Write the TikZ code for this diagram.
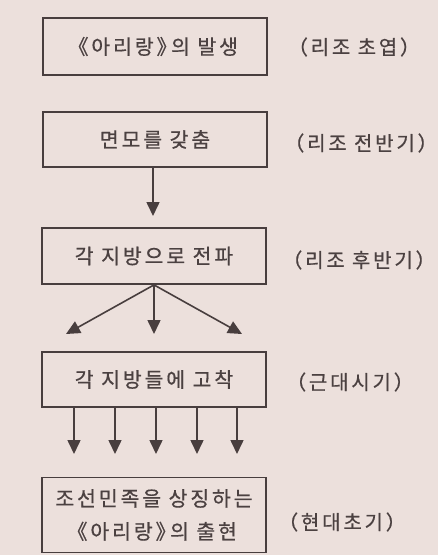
\documentclass[tikz,border=0pt]{standalone}
\usepackage{fontspec}
\usetikzlibrary{arrows.meta}
\newfontfamily\krfont{Noto Sans CJK KR}[LetterSpace=14,FakeBold=0.6]
\definecolor{paper}{RGB}{236,224,220}
\definecolor{ink}{RGB}{72,62,62}
\definecolor{txt}{RGB}{75,65,65}
\begin{document}
\begin{tikzpicture}[x=1pt,y=-1pt,
  stage/.style={draw=ink,line width=1.8pt,minimum width=224pt,inner sep=0pt,
    font=\krfont\fontsize{20.5}{33}\selectfont,text=txt,align=center},
  period/.style={font=\krfont\fontsize{20}{22}\selectfont,text=txt,anchor=center},
  flow/.style={draw=ink,line width=1.6pt,-{Triangle[width=13pt,length=14pt]}}]
\fill[paper] (0,0) rectangle (438,555);
\useasboundingbox (0,0) rectangle (438,555);
% stages
\node[stage,minimum height=57pt] (s1) at (155,46.5) {\kern-4pt《아리랑》\kern-6pt 의 발생};
\node[stage,minimum height=55pt] (s2) at (155,139.5) {면모를 갖춤};
\node[stage,minimum height=56pt] (s3) at (154,256) {각 지방으로 전파};
\node[stage,minimum height=55pt] (s4) at (154,379.5) {각 지방들에 고착};
\node[stage,minimum height=75pt] (s5) at (154,515) {조선민족을 상징하는\\\kern-4pt《아리랑》\kern-6pt 의 출현};
% periods
\node[period] (p1) at (354,47) {（리조 초엽）};
\node[period] (p2) at (361,143) {（리조 전반기）};
\node[period] (p3) at (359,260) {（리조 후반기）};
\node[period] (p4) at (350,382) {（근대시기）};
\node[period] (p5) at (342,522) {（현대초기）};
% arrows
\coordinate (a2) at (153,216);
\draw[flow] (s2.south -| a2) -- (a2);
\coordinate (f1) at (66,334);
\coordinate (f2) at (154,334);
\coordinate (f3) at (242,334);
\draw[flow] (s3.south) -- (f1);
\draw[flow] (s3.south) -- (f2);
\draw[flow] (s3.south) -- (f3);
\foreach \i/\xx in {1/74,2/115,3/156,4/197,5/237}{
  \coordinate (d\i) at (\xx,454);
  \draw[flow] (s4.south -| d\i) -- (d\i);
}
\end{tikzpicture}
\end{document}
